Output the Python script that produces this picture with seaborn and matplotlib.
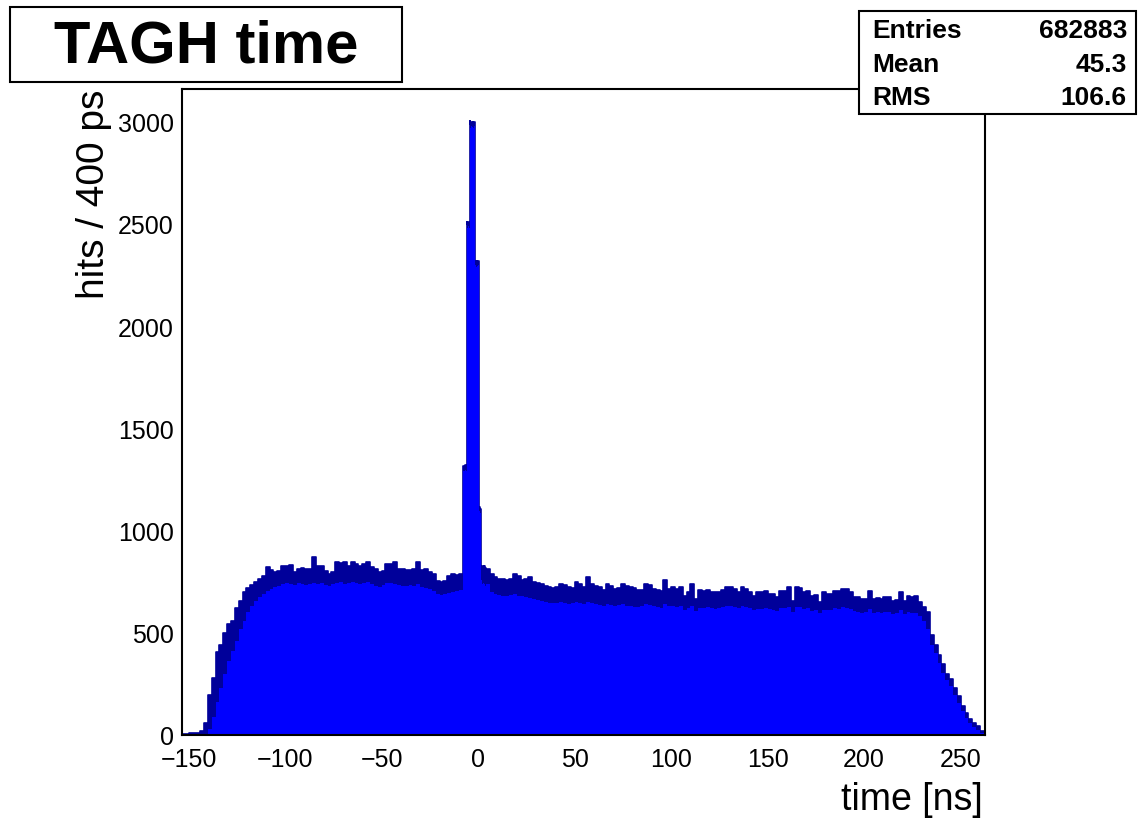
import numpy as np
import pandas as pd
import matplotlib
matplotlib.use("Agg")
import matplotlib.pyplot as plt
from matplotlib.patches import Rectangle
from matplotlib.ticker import MultipleLocator
import seaborn as sns

# ---------------- data (hits per 400 ps) ----------------
# upper envelope of the histogram, 2 ns groups starting at -154 ns
hits_hi_left = [4, 6, 8, 10, 12, 18, 60, 195, 280, 405, 440, 500, 545, 560, 620, 655,
                698, 720, 735, 748, 765, 779, 822, 805, 797, 800, 829, 826, 830, 797,
                813, 815, 810, 813, 872, 829, 826, 800, 790, 795, 846, 840, 846, 829,
                846, 838, 829, 835, 846, 822, 810, 797, 800, 838, 835, 846, 813, 810,
                805, 808, 813, 846, 805, 813, 797, 790, 751, 750, 752, 780, 789, 785, 789]
# peak region, 0.4 ns bins starting at -8 ns
hits_hi_peak = [790, 1318, 1310, 1320, 1315, 2508, 2500, 2510, 2505, 3005, 2990, 3000,
                2995, 3000, 2990, 3000, 2320, 2310, 2320, 2315, 2320, 1114, 1110, 1105,
                829, 825, 829, 820, 829, 815]
# 2 ns groups starting at +4 ns
hits_hi_right = [813, 790, 772, 764, 764, 760, 764, 789, 780, 756, 765, 772, 748, 745, 739,
                 730, 723, 720, 723, 739, 735, 723, 720, 748, 740, 723, 772, 740, 731, 725,
                 707, 739, 730, 715, 720, 739, 730, 723, 720, 707, 710, 739, 735, 715, 707,
                 705, 756, 715, 723, 715, 723, 682, 700, 739, 666, 707, 705, 707, 699, 700,
                 699, 707, 722, 723, 714, 699, 722, 715, 698, 682, 699, 698, 706, 690, 690,
                 674, 706, 706, 722, 657, 722, 720, 698, 706, 682, 685, 649, 698, 690, 690,
                 706, 706, 714, 714, 698, 674, 674, 665, 665, 706, 665, 668, 665, 674, 674,
                 657, 660, 698, 657, 678, 675, 678, 649, 625, 600, 490, 440, 390, 345, 300,
                 275, 230, 190, 140, 110, 80, 60, 45, 22]

# lower envelope (top of the solid fill under the dense bin-to-bin scatter)
hits_lo_left = [0, 0, 0, 0, 0, 0, 5, 30, 90, 160, 230, 300, 360, 410, 460, 520, 560, 600,
                630, 655, 675, 690, 705, 715, 722, 730, 738, 742, 740, 735, 745, 740, 735,
                740, 745, 738, 742, 735, 730, 738, 745, 748, 740, 745, 750, 742, 738, 745,
                748, 740, 730, 725, 735, 742, 745, 740, 735, 730, 728, 735, 730, 738, 725,
                720, 715, 705, 690, 685, 690, 695, 700, 705, 710]
hits_lo_peak = [700, 1290, 1290, 1295, 1290, 2485, 2480, 2490, 2480, 2985, 2970, 2980,
                2975, 2980, 2970, 2980, 2300, 2290, 2300, 2295, 2300, 1095, 1090, 1085,
                760, 740, 745, 735, 740, 730]
hits_lo_right = [740, 700, 690, 685, 682, 680, 685, 690, 682, 680, 675, 672, 665, 660, 655,
                 650, 648, 645, 648, 650, 645, 640, 645, 650, 645, 640, 650, 645, 640, 635,
                 630, 640, 635, 630, 635, 640, 632, 630, 628, 625, 630, 640, 635, 630, 625,
                 622, 640, 630, 632, 628, 630, 610, 620, 630, 605, 622, 620, 625, 620, 618,
                 622, 625, 630, 632, 628, 620, 630, 628, 620, 610, 618, 615, 622, 615, 612,
                 605, 620, 622, 628, 600, 625, 628, 615, 620, 608, 610, 595, 612, 610, 612,
                 620, 618, 625, 622, 615, 605, 600, 598, 600, 615, 598, 600, 598, 602, 600,
                 592, 595, 610, 592, 600, 598, 595, 580, 560, 520, 440, 400, 350, 305, 270,
                 240, 195, 155, 115, 85, 60, 40, 25, 8]

x_ticks = [-150, -100, -50, 0, 50, 100, 150, 200, 250]
y_ticks = [0, 500, 1000, 1500, 2000, 2500, 3000]
stats_labels = ["Entries", "Mean", "RMS"]
stats_values = ["682883", "45.3", "106.6"]
title_text = "TAGH time"
x_title = "time [ns]"
y_title = "hits / 400 ps"

# ---------------- bin edges ----------------
e_left = -154 + 2.0 * np.arange(len(hits_hi_left) + 1)
e_peak = e_left[-1] + 0.4 * np.arange(len(hits_hi_peak) + 1)
e_right = e_peak[-1] + 2.0 * np.arange(len(hits_hi_right) + 1)
edges = np.concatenate([e_left, e_peak[1:], e_right[1:]])
centers = 0.5 * (edges[:-1] + edges[1:])
hi = np.array(hits_hi_left + hits_hi_peak + hits_hi_right, dtype=float)
lo = np.array(hits_lo_left + hits_lo_peak + hits_lo_right, dtype=float)
df = pd.DataFrame({"time": centers, "hi": hi, "lo": lo})
bin_list = [float(v) for v in edges]

# ---------------- style ----------------
sns.set_style("white")
plt.rcParams["font.family"] = ["Liberation Sans", "DejaVu Sans"]
for key in ["text.color", "axes.labelcolor", "xtick.color", "ytick.color",
            "xtick.labelcolor", "ytick.labelcolor"]:
    plt.rcParams[key] = "black"

fig = plt.figure(figsize=(11.4, 8.2), dpi=100)
ax = fig.add_axes([182 / 1140, 1 - 736 / 820, (985 - 182) / 1140, (736 - 90) / 820])

dark = "#00009a"
bright = "#0000ff"
sns.histplot(data=df, x="time", weights="hi", bins=bin_list, element="step", fill=True,
             color=dark, alpha=1, edgecolor=dark, linewidth=1.2, ax=ax)
sns.histplot(data=df, x="time", weights="lo", bins=bin_list, element="step", fill=True,
             color=bright, alpha=1, linewidth=0, ax=ax)

ax.set_xlim(-153.4, 262.6)
ax.set_ylim(0, 3160)
ax.set_xlabel("")
ax.set_ylabel("")
ax.set_xticks(x_ticks)
ax.set_yticks(y_ticks)
ax.xaxis.set_minor_locator(MultipleLocator(10))
ax.yaxis.set_minor_locator(MultipleLocator(100))
ax.tick_params(axis="both", which="both", direction="in", top=False, right=False,
               color="black", labelcolor="black", width=1.2)
ax.tick_params(axis="x", which="major", length=18, pad=9, labelsize=18)
ax.tick_params(axis="x", which="minor", length=9)
ax.tick_params(axis="y", which="major", length=24, pad=6, labelsize=18)
ax.tick_params(axis="y", which="minor", length=12)
for sp in ax.spines.values():
    sp.set_visible(True)
    sp.set_color("black")
    sp.set_linewidth(1.5)
ax.set_facecolor("white")

# axis titles
fig.text(983 / 1140, 1 - 800 / 820, x_title, ha="right", va="center", fontsize=27,
         color="black")
fig.text(94 / 1140, 1 - 90 / 820, y_title, ha="center", va="top", rotation=90,
         fontsize=28, color="black")

# title box
fig.patches.append(Rectangle((10 / 1140, 1 - 83 / 820), 392 / 1140, 75 / 820,
                             transform=fig.transFigure, facecolor="white",
                             edgecolor="black", linewidth=1.5, zorder=2))
fig.text(206 / 1140, 1 - 47 / 820, title_text, ha="center", va="center",
         fontsize=43, fontweight="bold", color="black", zorder=3)

# stats box
fig.patches.append(Rectangle((859 / 1140, 1 - 115 / 820), 277 / 1140, 103 / 820,
                             transform=fig.transFigure, facecolor="white",
                             edgecolor="black", linewidth=1.5, zorder=2))
row_y = [31, 65, 98]
for lab, val, yy in zip(stats_labels, stats_values, row_y):
    fig.text(872 / 1140, 1 - yy / 820, lab, ha="left", va="center", fontsize=19,
             fontweight="bold", color="black", zorder=3)
    fig.text(1127 / 1140, 1 - yy / 820, val, ha="right", va="center", fontsize=19,
             fontweight="bold", color="black", zorder=3)

fig.savefig("out.png", dpi=100)
